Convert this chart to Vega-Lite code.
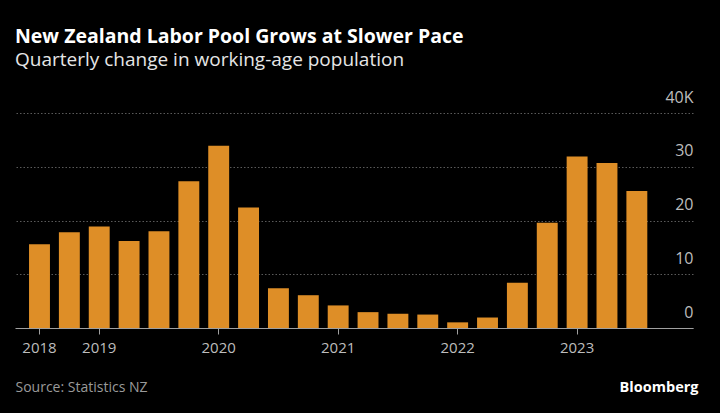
{
  "$schema": "https://vega.github.io/schema/vega-lite/v6.json",
  "width": 678,
  "height": 215,
  "autosize": "none",
  "padding": {"left": 15, "top": 113, "right": 27, "bottom": 85},
  "background": "#000000",
  "title": {
    "text": "New Zealand Labor Pool Grows at Slower Pace",
    "subtitle": "Quarterly change in working-age population",
    "anchor": "start",
    "frame": "group",
    "offset": 18,
    "font": "Open Sans",
    "fontSize": 19.5,
    "fontWeight": "bold",
    "color": "#ffffff",
    "subtitleFont": "Open Sans",
    "subtitleFontSize": 19,
    "subtitleColor": "#e6e6e6",
    "subtitlePadding": 4
  },
  "data": {
    "values": [
      {"q": "2018 Q3", "change": 15600},
      {"q": "2018 Q4", "change": 17800},
      {"q": "2019 Q1", "change": 18900},
      {"q": "2019 Q2", "change": 16200},
      {"q": "2019 Q3", "change": 18000},
      {"q": "2019 Q4", "change": 27300},
      {"q": "2020 Q1", "change": 33900},
      {"q": "2020 Q2", "change": 22400},
      {"q": "2020 Q3", "change": 7400},
      {"q": "2020 Q4", "change": 6100},
      {"q": "2021 Q1", "change": 4200},
      {"q": "2021 Q2", "change": 2950},
      {"q": "2021 Q3", "change": 2650},
      {"q": "2021 Q4", "change": 2500},
      {"q": "2022 Q1", "change": 1050},
      {"q": "2022 Q2", "change": 1950},
      {"q": "2022 Q3", "change": 8400},
      {"q": "2022 Q4", "change": 19600},
      {"q": "2023 Q1", "change": 31900},
      {"q": "2023 Q2", "change": 30700},
      {"q": "2023 Q3", "change": 25500}
    ]
  },
  "mark": {"type": "bar", "color": "#de8e27"},
  "encoding": {
    "x": {
      "field": "q",
      "type": "ordinal",
      "sort": null,
      "scale": {"paddingInner": 0.3, "paddingOuter": 1.214, "align": 0.235},
      "axis": {
        "values": ["2018 Q3", "2019 Q1", "2020 Q1", "2021 Q1", "2022 Q1", "2023 Q1"],
        "labelExpr": "slice(datum.value, 0, 4)",
        "labelAngle": 0,
        "labelFont": "Open Sans",
        "labelFontSize": 15,
        "labelColor": "#bdbdbd",
        "labelPadding": 6,
        "tickColor": "#a0a0a0",
        "tickSize": 6,
        "domainColor": "#a0a0a0",
        "grid": false,
        "title": "Source: Statistics NZ",
        "titleFont": "Open Sans",
        "titleFontSize": 14,
        "titleFontWeight": "normal",
        "titleColor": "#9a9a9a",
        "titleAnchor": "start",
        "titleAlign": "left",
        "titleBaseline": "alphabetic",
        "titleX": 0,
        "titleY": 63
      }
    },
    "y": {
      "field": "change",
      "type": "quantitative",
      "scale": {"domain": [0, 40000], "nice": false},
      "axis": {
        "orient": "right",
        "values": [0, 10000, 20000, 30000, 40000],
        "labelExpr": "datum.value == 40000 ? '40K' : format(datum.value / 1000, 'd')",
        "labelAlign": "right",
        "labelBaseline": "bottom",
        "labelOffset": -8,
        "labelPadding": 0,
        "labelFont": "Open Sans",
        "labelFontSize": 16,
        "labelColor": "#bdbdbd",
        "ticks": false,
        "domain": false,
        "grid": true,
        "gridColor": "#5a5a5a",
        "gridDash": [1.5, 2],
        "gridWidth": 1,
        "title": "Bloomberg",
        "titleFont": "Open Sans",
        "titleFontSize": 14.5,
        "titleFontWeight": "bold",
        "titleColor": "#ffffff",
        "titleAngle": 0,
        "titleAlign": "right",
        "titleBaseline": "alphabetic",
        "titleX": 5,
        "titleY": 278
      }
    }
  },
  "config": {
    "view": {"stroke": null}
  }
}
